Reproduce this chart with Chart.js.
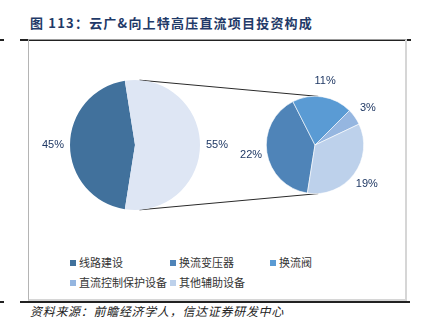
<!DOCTYPE html>
<html>
<head>
<meta charset="utf-8">
<script src="https://cdn.jsdelivr.net/npm/chart.js@4.4.1/dist/chart.umd.min.js"></script>
<style>
  html, body { margin: 0; padding: 0; background: #fff; }
  body { width: 422px; height: 328px; position: relative; overflow: hidden;
         font-family: "Noto Sans CJK SC", sans-serif; }
  .abs { position: absolute; }
  #title { left: 30px; top: 13px; font-size: 13px; font-weight: bold; color: #1f3a68;
           letter-spacing: 1.2px; white-space: nowrap; }
  .rule { background: #222; height: 1.5px; }
  #box { left: 28px; top: 39px; width: 376px; height: 259px;
         border-left: 1px solid #b4b4b4; border-top: 1px solid #9c9c9c;
         border-right: 2px solid #d6d6d6; border-bottom: 2px solid #d6d6d6; }
  #legend { left: 70px; top: 255px; width: 330px; font-size: 11px; color: #333; }
  .item { position: absolute; white-space: nowrap; line-height: 14px; }
  .item i { display: inline-block; width: 6px; height: 6px; margin-right: 3px; vertical-align: 1px; }
  #source { left: 30px; top: 302px; font-size: 12px; font-style: italic; color: #222;
            letter-spacing: 0.7px; white-space: nowrap; }
</style>
</head>
<body>
<div class="abs rule" style="left:0;top:39px;width:4px"></div>
<div class="abs rule" style="left:20px;top:39px;width:391px"></div>
<div class="abs rule" style="left:0;top:301px;width:4px"></div>
<div class="abs rule" style="left:20px;top:301px;width:390px"></div>
<div id="box" class="abs"></div>
<div id="title" class="abs">图 113：云广&amp;向上特高压直流项目投资构成</div>
<canvas id="mainPie" class="abs" style="left:30px;top:70px" width="380" height="150"></canvas>
<canvas id="subPie" class="abs" style="left:230px;top:70px" width="170" height="150"></canvas>
<div id="legend" class="abs"></div>
<div id="source" class="abs">资料来源：前瞻经济学人，信达证券研发中心</div>
<script>
// 主饼图：线路建设 vs 换流站相关投资（%）
const mainLabels = ['线路建设', '其他'];
const mainValues = [45, 55];
const mainColors = ['#41719c', '#dee6f4'];

// 子饼图：拆分 55% 部分（%）
const subLabels = ['换流变压器', '换流阀', '直流控制保护设备', '其他辅助设备'];
const subValues = [22, 11, 3, 19];
const subColors = ['#4f84b8', '#5a9bd4', '#95b6e0', '#bdd1eb'];

const legendNames = [mainLabels[0]].concat(subLabels);
const legendColors = [mainColors[0]].concat(subColors);

const LABEL_FONT = "11px 'Liberation Sans Narrow', 'Liberation Sans', sans-serif";
const LABEL_COLOR = '#1f3864';

// 百分比标签画在扇区外侧
const outerLabels = {
    id: 'outerLabels',
    afterDatasetsDraw(chart, args, opts) {
        const ctx = chart.ctx;
        const values = chart.data.datasets[0].data;
        ctx.save();
        ctx.font = LABEL_FONT;
        ctx.fillStyle = LABEL_COLOR;
        ctx.textAlign = 'center';
        ctx.textBaseline = 'middle';
        chart.getDatasetMeta(0).data.forEach((arc, i) => {
            const mid = (arc.startAngle + arc.endAngle) / 2;
            const d = arc.outerRadius + opts.offset;
            ctx.fillText(values[i] + '%', arc.x + Math.cos(mid) * d, arc.y + Math.sin(mid) * d);
        });
        ctx.restore();
    }
};

const subChart = new Chart(document.getElementById('subPie'), {
    type: 'pie',
    data: {
        labels: subLabels,
        datasets: [{ data: subValues, backgroundColor: subColors, borderColor: '#ffffff', borderWidth: 0.6 }]
    },
    options: {
        responsive: false,
        animation: false,
        rotation: 189,
        layout: { padding: { left: 36, right: 36, top: 26, bottom: 26 } },
        plugins: { legend: { display: false }, tooltip: { enabled: false }, outerLabels: { offset: 16 } }
    },
    plugins: [outerLabels]
});

// 两个饼之间的连接线
const connector = {
    id: 'connector',
    beforeDatasetsDraw(chart) {
        const a = chart.getDatasetMeta(0).data[0];
        const b = subChart.getDatasetMeta(0).data[0];
        if (!a || !b) return;
        const dx = 200, dy = 0; // subPie 画布相对 mainPie 画布的偏移
        const t = 4 * Math.PI / 180;
        const ctx = chart.ctx;
        ctx.save();
        ctx.strokeStyle = '#2a2a2a';
        ctx.lineWidth = 1;
        ctx.beginPath();
        ctx.moveTo(a.x + a.outerRadius * Math.sin(t), a.y - a.outerRadius * Math.cos(t));
        ctx.lineTo(b.x + dx + b.outerRadius * Math.sin(t), b.y + dy - b.outerRadius * Math.cos(t));
        ctx.moveTo(a.x + a.outerRadius * Math.sin(t), a.y + a.outerRadius * Math.cos(t));
        ctx.lineTo(b.x + dx + b.outerRadius * Math.sin(t), b.y + dy + b.outerRadius * Math.cos(t));
        ctx.stroke();
        ctx.restore();
    }
};

const mainChart = new Chart(document.getElementById('mainPie'), {
    type: 'pie',
    data: {
        labels: mainLabels,
        datasets: [{ data: mainValues, backgroundColor: mainColors, borderWidth: 0 }]
    },
    options: {
        responsive: false,
        animation: false,
        rotation: 189,
        layout: { padding: { left: 40, right: 210, top: 10, bottom: 10 } },
        plugins: { legend: { display: false }, tooltip: { enabled: false }, outerLabels: { offset: 17 } }
    },
    plugins: [connector, outerLabels]
});

// 图例
const legend = document.getElementById('legend');
const legendPos = [[0, 0], [100, 0], [200, 0], [0, 20], [100, 20]];
legendNames.forEach((name, i) => {
    const el = document.createElement('div');
    el.className = 'item';
    el.style.left = legendPos[i][0] + 'px';
    el.style.top = legendPos[i][1] + 'px';
    el.innerHTML = '<i style="background:' + legendColors[i] + '"></i>' + name;
    legend.appendChild(el);
});
</script>
</body>
</html>
